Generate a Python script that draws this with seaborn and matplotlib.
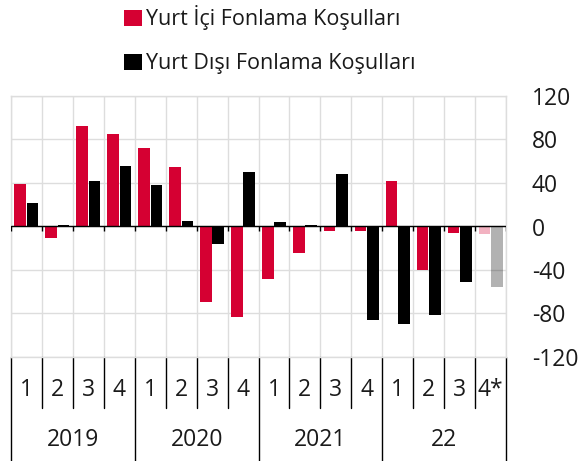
import matplotlib
matplotlib.use("Agg")
import matplotlib.pyplot as plt
import matplotlib.transforms as mtransforms
import seaborn as sns
import pandas as pd
import numpy as np

# ---- data ----
quarters = ["1", "2", "3", "4", "1", "2", "3", "4", "1", "2", "3", "4", "1", "2", "3", "4*"]
years = ["2019", "2020", "2021", "22"]
series_names = ["Yurt İçi Fonlama Koşulları", "Yurt Dışı Fonlama Koşulları"]
domestic = [39, -11, 92, 85, 72, 55, -69, -83, -48, -24, -4, -4, 42, -40, -6, -7]
foreign = [22, 1, 42, 56, 38, 5, -16, 50, 4, 1, 48, -86, -90, -81, -51, -56]

periods = [f"{i}" for i in range(len(quarters))]
df = pd.DataFrame({
    "period": periods * 2,
    "value": domestic + foreign,
    "series": [series_names[0]] * len(periods) + [series_names[1]] * len(periods),
})

RED = "#d50032"
BLACK = "#000000"
TEXT = "#1a1a1a"
GRID = "#dddddd"

sns.set_theme(style="white")
plt.rcParams["font.family"] = ["Open Sans", "DejaVu Sans"]
plt.rcParams["axes.unicode_minus"] = False
FS = 16.5

fig = plt.figure(figsize=(5.8, 4.61), dpi=100)
ax = fig.add_axes([11 / 580, (461 - 357) / 461, (506 - 11) / 580, (357 - 96) / 461])

sns.barplot(data=df, x="period", y="value", hue="series", order=periods,
            hue_order=series_names, palette=[RED, BLACK], width=0.8, gap=0.06,
            saturation=1, ax=ax, zorder=3, linewidth=0)

# projection (last quarter) shown lighter
for cont in ax.containers:
    cont[len(periods) - 1].set_alpha(0.3)

n = len(periods)
ax.set_xlim(-0.5, n - 0.5)
ax.set_ylim(-120, 120)
ax.set_yticks(np.arange(-120, 121, 40))
ax.yaxis.tick_right()
ax.tick_params(axis="y", length=0, pad=18.5, labelsize=FS, labelcolor=TEXT)
ax.set_xticks(range(n))
ax.set_xticklabels(quarters)
ax.tick_params(axis="x", length=0, pad=15, labelsize=FS, labelcolor=TEXT)
ax.set_xticks(np.arange(-0.5, n, 1), minor=True)
ax.tick_params(axis="x", which="minor", length=0)
ax.grid(False)
ax.grid(True, which="minor", axis="x", color=GRID, lw=1, zorder=0)
ax.grid(True, which="major", axis="y", color=GRID, lw=1, zorder=0)
ax.set_axisbelow(True)
for s in ax.spines.values():
    s.set_color(GRID)
    s.set_linewidth(1)
ax.set_xlabel("")
ax.set_ylabel("")

# zero line with small ticks
ax.axhline(0, color="black", lw=1, zorder=4)
ax.vlines(np.arange(-0.5, n, 1), -4, 0, color="black", lw=1, zorder=4)

# category separators below the axis
trans = mtransforms.blended_transform_factory(ax.transData, ax.transAxes)
ah = 357 - 96
q_bottom = -(408 - 357) / ah
y_bottom = -(461 - 357) / ah
for k in range(n + 1):
    xb = k - 0.5
    yb = y_bottom if k % 4 == 0 else q_bottom
    ax.plot([xb, xb], [0, yb], color="black", lw=1, transform=trans, clip_on=False)

for i, yr in enumerate(years):
    ax.text(i * 4 + 1.5, -(440 - 357) / ah, yr, transform=trans, ha="center",
            va="center", fontsize=FS, color=TEXT)

# legend
leg = ax.get_legend()
handles = leg.legend_handles
leg.remove()
fig.legend(handles, series_names, loc="upper center", bbox_to_anchor=(270 / 580, 1 - 2 / 461),
           borderaxespad=0, borderpad=0.15, frameon=False, fontsize=15.5,
           handlelength=0.8, handleheight=0.8, handletextpad=0.2, labelspacing=1.08,
           labelcolor=TEXT)

fig.savefig("out.png", dpi=100)
